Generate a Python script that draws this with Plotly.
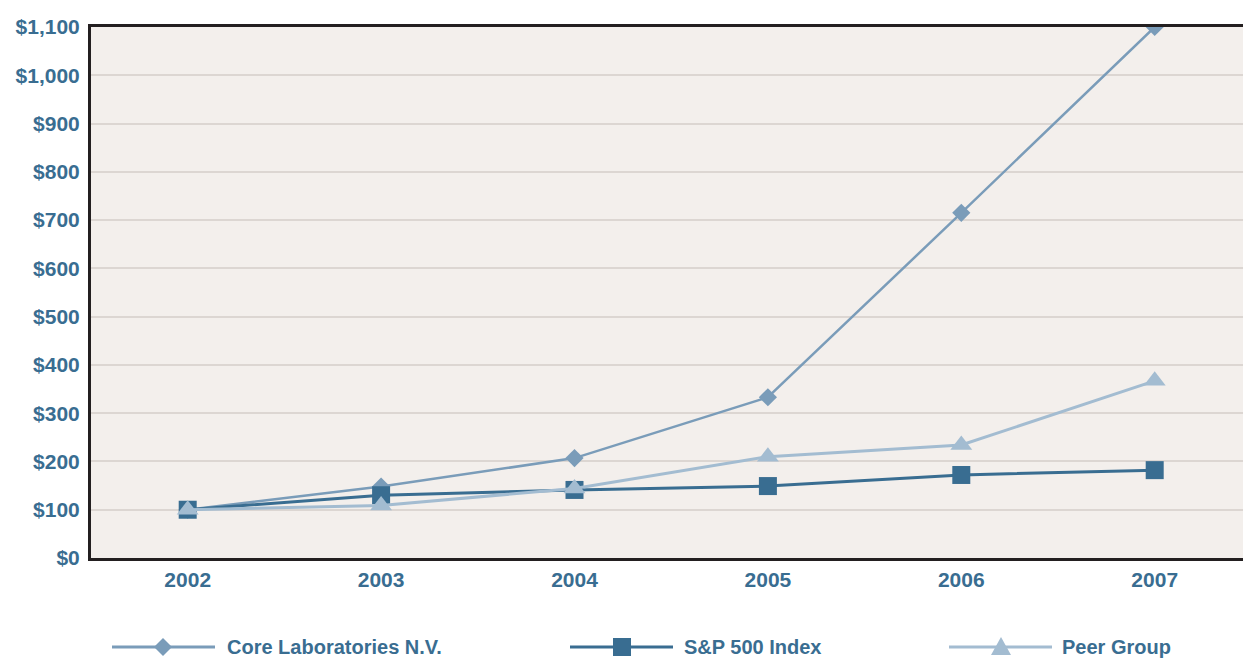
import plotly.graph_objects as go

years = [2002, 2003, 2004, 2005, 2006, 2007]
core_lab = [100, 148, 207, 333, 715, 1100]
sp500 = [100, 130, 141, 149, 172, 182]
peer_group = [100, 109, 144, 210, 234, 367]
series_names = ["Core Laboratories N.V.", "S&P 500 Index", "Peer Group"]
y_ticks = list(range(0, 1101, 100))
y_tick_labels = ["$" + format(v, ",") for v in y_ticks]

C_CORE = "#7a9cb9"
C_SP = "#396d91"
C_PEER = "#a3bcd1"
TXT = "#396d91"
FONT = "Liberation Sans, Arial, sans-serif"

W, H = 1243, 660
L, R, T, B = 91, 0, 27, 102
PW, PH = W - L - R, H - T - B

fig = go.Figure()
fig.add_trace(go.Scatter(x=years, y=core_lab, mode="lines+markers", name=series_names[0],
                         line=dict(color=C_CORE, width=2.5),
                         marker=dict(symbol="diamond", size=14, color=C_CORE)))
fig.add_trace(go.Scatter(x=years, y=sp500, mode="lines+markers", name=series_names[1],
                         line=dict(color=C_SP, width=3),
                         marker=dict(symbol="square", size=18, color=C_SP)))
fig.add_trace(go.Scatter(x=years, y=peer_group, mode="lines+markers", name=series_names[2],
                         line=dict(color=C_PEER, width=3),
                         marker=dict(symbol="triangle-up", size=19, color=C_PEER)))

def px(x):
    return (x - L) / PW

def py(y):
    return (H - B - y) / PH

shapes = []
annotations = []
legend_items = [
    (series_names[0], C_CORE, 112, 215, 163, 225, "diamond"),
    (series_names[1], C_SP, 570, 673, 622, 682, "square"),
    (series_names[2], C_PEER, 949, 1052, 1001, 1060, "triangle"),
]
ly = 647
for name, col, x0, x1, xm, xt, sym in legend_items:
    shapes.append(dict(type="line", xref="paper", yref="paper", x0=px(x0), x1=px(x1),
                       y0=py(ly), y1=py(ly), line=dict(color=col, width=3)))
    if sym == "diamond":
        path = "M-9,0 L0,-9 L9,0 L0,9 Z"
    elif sym == "square":
        path = "M-9,-9 L9,-9 L9,9 L-9,9 Z"
    else:
        path = "M-10,-8 L10,-8 L0,10 Z"
    shapes.append(dict(type="path", xref="paper", yref="paper", xsizemode="pixel", ysizemode="pixel",
                       xanchor=px(xm), yanchor=py(ly), path=path, fillcolor=col,
                       line=dict(width=0)))
    annotations.append(dict(text=name, xref="paper", yref="paper", x=px(xt), y=py(ly),
                            xanchor="left", yanchor="middle", showarrow=False,
                            font=dict(family=FONT, size=20, color=TXT, weight="bold")))

fig.update_layout(
    width=W, height=H,
    margin=dict(l=L, r=R, t=T, b=B),
    paper_bgcolor="white",
    plot_bgcolor="#f3efec",
    showlegend=False,
    shapes=shapes,
    annotations=annotations,
    font=dict(family=FONT, size=20, color=TXT, weight="bold"),
    xaxis=dict(range=[2001.5, 2001.5 + PW / 193.4], tickvals=years, ticktext=[str(y) for y in years],
               showgrid=False, zeroline=False, showline=True, mirror=True,
               linecolor="#231f20", linewidth=3, ticks="outside", ticklen=1,
               tickcolor="rgba(0,0,0,0)",
               tickfont=dict(family=FONT, size=21, color=TXT, weight="bold")),
    yaxis=dict(range=[0, 1100], tickvals=y_ticks, ticktext=y_tick_labels,
               showgrid=True, gridcolor="#dcd6d2", gridwidth=1.5, zeroline=False,
               showline=True, linecolor="#231f20", linewidth=3,
               ticks="outside", ticklen=4, tickcolor="rgba(0,0,0,0)",
               tickfont=dict(family=FONT, size=21, color=TXT, weight="bold")),
)

fig.write_html("out.html")
